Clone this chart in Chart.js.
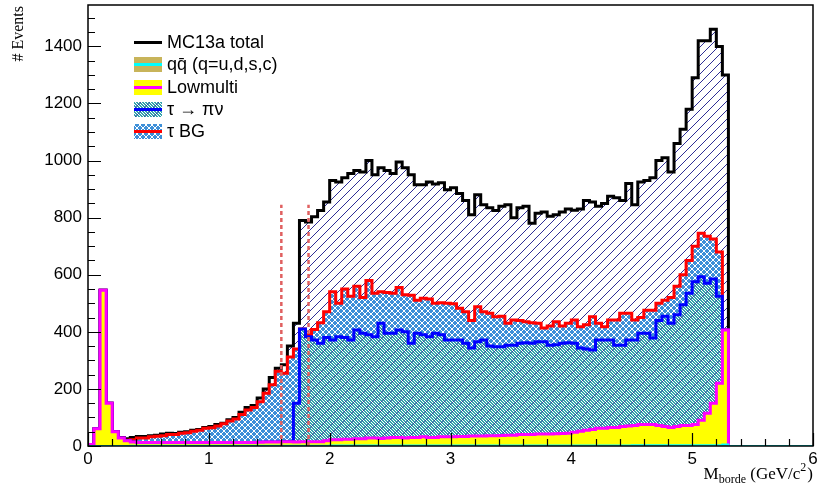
<!DOCTYPE html>
<html>
<head>
<meta charset="utf-8">
<script src="https://cdn.jsdelivr.net/npm/chart.js@4.4.1/dist/chart.umd.min.js"></script>
<style>
  html, body { margin: 0; padding: 0; background: #fff; }
  canvas { display: block; }
</style>
</head>
<body>
<canvas id="chart" width="817" height="491"></canvas>
<script>
// histogram bins: 0.05 GeV/c^2 wide, starting at 0
const binWidth = 0.05;
const xMax = 6;
const yMax = 1545;

// stacked components, events per bin
const qq = [
  0,0,0,0,0,0,0,1,1,1,
  1,1,1,1,1,1,1,1,1,1,
  1,1,1,1,1,1,1,1,1,1,
  1,1,1,1,1,1,1,1,1,1,
  2,2,2,2,2,2,2,2,2,2,
  2,2,2,2,2,2,2,2,2,2,
  2,2,2,2,2,2,2,2,2,2,
  2,2,2,2,2,2,2,2,2,2,
  2,2,2,2,2,2,2,2,2,2,
  3,3,3,3,3,3,3,3,3,3,
  3,3,3,3,3,5
];
const lowmulti = [
  5,60,546,150,50,28,18,13,11,11,
  11,11,11,11,11,11,11,11,11,11,
  11,11,11,11,11,11,11,11,12,13,
  13,13,14,14,13,14,14,14,14,17,
  20,20,22,22,23,23,26,26,24,26,
  28,28,26,28,28,30,28,28,30,30,
  30,31,31,33,33,33,34,34,35,36,
  36,38,38,38,40,40,40,41,42,43,
  46,50,53,56,60,60,63,63,66,68,
  69,72,72,72,69,65,62,65,69,69,
  72,87,112,147,217,401
];
const tauPiNu = [
  0,0,0,0,0,0,0,0,0,0,
  0,0,0,0,0,0,0,0,0,0,
  0,0,0,0,0,0,0,0,0,0,
  0,0,0,0,136,395,368,356,345,362,
  349,361,356,347,381,370,362,355,404,367,
  365,376,372,330,365,358,353,365,358,339,
  339,338,327,308,330,336,314,312,311,315,
  315,320,322,320,323,323,311,312,316,317,
  312,291,285,278,309,309,306,288,285,301,
  299,320,320,303,368,387,365,392,423,463,
  500,503,455,435,305,0
];
const tauBG = [
  0,0,0,0,0,0,2,8,16,16,
  20,22,24,28,28,33,34,40,43,50,
  52,58,66,76,83,98,114,123,142,171,
  201,248,240,297,190,0,7,37,72,90,
  169,117,170,154,154,125,190,152,110,143,
  140,149,130,168,116,128,132,105,112,129,
  127,112,110,97,123,99,115,105,107,77,
  88,80,73,72,65,48,67,80,60,68,
  81,75,85,117,59,47,70,88,112,94,
  70,55,81,98,60,56,90,100,105,115,
  125,152,165,140,155,0
];
// MC13a total
const total = [
  5,60,546,150,50,30,25,30,33,33,
  36,38,42,45,44,48,50,55,58,65,
  68,75,80,92,100,118,135,142,168,200,
  240,272,285,350,430,790,785,803,825,855,
  930,925,940,955,965,960,1000,950,975,965,
  955,995,975,950,915,915,925,918,922,898,
  905,885,860,810,880,845,835,825,840,845,
  800,835,840,780,815,820,805,810,820,830,
  826,830,860,855,840,850,875,870,860,920,
  845,925,930,940,1000,1010,960,1060,1110,1180,
  1290,1420,1420,1460,1400,1300
];

// selection cuts (dashed lines)
const cutPositions = [1.6, 1.825];
const cutTop = 845;

const nBins = total.length;
const edges = total.map((_, i) => +(i * binWidth).toFixed(2));

function histPoints(vals, toEnd) {
  const pts = vals.map((v, i) => ({ x: edges[i], y: v }));
  pts.push({ x: +(nBins * binWidth).toFixed(2), y: 0 });
  if (toEnd) pts.push({ x: xMax, y: 0 });
  return pts;
}

// part of the total above the listed components
const rest = total.map((t, i) => Math.max(0, t - qq[i] - lowmulti[i] - tauPiNu[i] - tauBG[i]));

// fill patterns
function makePattern(size, draw) {
  const c = document.createElement('canvas');
  c.width = size; c.height = size;
  const g = c.getContext('2d');
  draw(g, size);
  return g.createPattern(c, 'repeat');
}
const hatchPattern = makePattern(9, (g, s) => {
  g.strokeStyle = '#2e2e96';
  g.lineWidth = 1;
  for (const k of [0, s, 2 * s]) {
    g.beginPath();
    g.moveTo(k - s - 1, s + 1);
    g.lineTo(k + 1, -1);
    g.stroke();
  }
});
const tauBGPattern = makePattern(6, (g, s) => {
  g.fillStyle = '#3d8fd8';
  g.fillRect(0, 0, s, s);
  g.fillStyle = '#ffffff';
  for (let x = 0; x < s; x++) {
    for (let y = 0; y < s; y++) {
      if ((x + y) % 6 === 0 || (x - y + 6) % 6 === 3) g.fillRect(x, y, 1, 1);
    }
  }
});
const tauPiNuPattern = makePattern(9, (g, s) => {
  g.fillStyle = '#35a3ad';
  g.fillRect(0, 0, s, s);
  g.fillStyle = '#ffffff';
  for (let x = 0; x < s; x++) {
    for (let y = 0; y < s; y++) {
      if ((x + 2 * y) % 3 === 0) g.fillRect(x, y, 1, 1);
    }
  }
  g.fillStyle = 'rgba(46,46,150,0.7)';
  for (let x = 0; x < s; x++) g.fillRect(x, s - 1 - x, 1, 1);
});

const sansFont = '"Liberation Sans", Arial, Helvetica, sans-serif';
const serifFont = '"Liberation Serif", "Times New Roman", serif';

function histSet(label, vals, line, fill, width, fillMode, toEnd) {
  return {
    label: label,
    data: histPoints(vals, toEnd),
    stepped: true,
    borderColor: line,
    backgroundColor: fill,
    borderWidth: width,
    borderJoinStyle: 'miter',
    pointRadius: 0,
    fill: fillMode,
    yAxisID: 'y',
  };
}

const datasets = [
  histSet('qq\u0304 (q=u,d,s,c)', qq, '#00ffff', '#c8b45a', 2, 'origin', true),
  histSet('Lowmulti', lowmulti, '#ff00ff', '#ffff00', 3, '-1', false),
  histSet('\u03c4 \u2192 \u03c0\u03bd', tauPiNu, '#0000ff', tauPiNuPattern, 3, '-1', false),
  histSet('\u03c4 BG', tauBG, '#ff0000', tauBGPattern, 3, '-1', false),
  histSet('MC13a total', rest, '#000000', hatchPattern, 3, '-1', false),
];
cutPositions.forEach((c) => {
  datasets.push({
    label: 'cut',
    data: [{ x: c, y: 0 }, { x: c, y: cutTop }],
    borderColor: '#e06060',
    borderWidth: 2.5,
    borderDash: [4, 3],
    pointRadius: 0,
    fill: false,
    yAxisID: 'yCut',
    order: -1,
  });
});

// frame, inner ticks, axis titles and legend, ROOT style
const decorations = {
  id: 'decorations',
  afterDraw(chart) {
    const ctx = chart.ctx;
    const a = chart.chartArea;
    const xs = chart.scales.x;
    const ys = chart.scales.y;
    ctx.save();
    ctx.strokeStyle = '#000';
    ctx.lineWidth = 1.5;
    ctx.strokeRect(a.left, a.top, a.right - a.left, a.bottom - a.top);

    ctx.lineWidth = 1.2;
    ctx.beginPath();
    for (let k = 0; k <= 30; k++) {
      const v = k * 0.2;
      const px = Math.round(xs.getPixelForValue(v)) + 0.5;
      const len = k % 5 === 0 ? 13 : 7;
      ctx.moveTo(px, a.bottom);
      ctx.lineTo(px, a.bottom - len);
    }
    for (let v = 0; v <= 1500; v += 50) {
      const py = Math.round(ys.getPixelForValue(v)) + 0.5;
      const len = v % 200 === 0 ? 13 : 7;
      ctx.moveTo(a.left, py);
      ctx.lineTo(a.left + len, py);
    }
    ctx.stroke();

    // y title
    ctx.fillStyle = '#000';
    ctx.save();
    ctx.translate(23, 6);
    ctx.rotate(-Math.PI / 2);
    ctx.font = '16px ' + serifFont;
    ctx.textAlign = 'right';
    ctx.textBaseline = 'alphabetic';
    ctx.fillText('# Events', 0, 0);
    ctx.restore();

    // x title: M_borde (GeV/c^2)
    const parts = [
      { t: 'M', size: 17, dy: 0 },
      { t: 'borde', size: 12, dy: 4 },
      { t: ' (GeV/c', size: 17, dy: 0 },
      { t: '2', size: 12, dy: -8 },
      { t: ')', size: 17, dy: 0 },
    ];
    let w = 0;
    parts.forEach((p) => { ctx.font = p.size + 'px ' + serifFont; p.w = ctx.measureText(p.t).width; w += p.w; });
    let tx = 812 - w;
    ctx.textAlign = 'left';
    ctx.textBaseline = 'alphabetic';
    parts.forEach((p) => {
      ctx.font = p.size + 'px ' + serifFont;
      ctx.fillText(p.t, tx, 479 + p.dy);
      tx += p.w + (p.t === '2' ? 1 : 0);
    });

    // legend
    const legendOrder = [4, 0, 1, 2, 3];
    legendOrder.forEach((di, row) => {
      const ds = chart.data.datasets[di];
      const cy = Math.round(42 + row * 22.3);
      if (di !== 4) {
        ctx.fillStyle = ds.backgroundColor;
        ctx.fillRect(134, cy - 7, 28, 15);
      }
      ctx.strokeStyle = ds.borderColor;
      ctx.lineWidth = 3;
      ctx.beginPath();
      ctx.moveTo(134, cy + 0.5);
      ctx.lineTo(162, cy + 0.5);
      ctx.stroke();
      ctx.fillStyle = '#000';
      ctx.font = '18px ' + sansFont;
      ctx.textBaseline = 'middle';
      ctx.fillText(ds.label, 167, cy + 1);
    });
    ctx.restore();
  },
};

new Chart(document.getElementById('chart'), {
  type: 'line',
  data: { datasets: datasets },
  options: {
    responsive: false,
    animation: false,
    devicePixelRatio: 1,
    layout: { padding: { top: 5, right: 4, left: 0, bottom: 0 } },
    plugins: {
      legend: { display: false },
      tooltip: { enabled: false },
    },
    scales: {
      x: {
        type: 'linear',
        min: 0,
        max: xMax,
        grid: { display: false, drawTicks: false },
        border: { display: false },
        ticks: {
          stepSize: 1,
          color: '#000',
          padding: 3,
          maxRotation: 0,
          font: { family: sansFont, size: 17 },
          callback: (v) => String(v),
        },
        afterFit: (s) => { s.height = 45; s.paddingLeft = 0; s.paddingRight = 0; },
      },
      y: {
        type: 'linear',
        stacked: true,
        min: 0,
        max: yMax,
        grid: { display: false, drawTicks: false },
        border: { display: false },
        ticks: {
          stepSize: 200,
          includeBounds: false,
          color: '#000',
          padding: 6,
          font: { family: sansFont, size: 17 },
          callback: (v) => String(v),
        },
        afterFit: (s) => { s.width = 88; s.paddingTop = 0; s.paddingBottom = 0; },
      },
      yCut: {
        type: 'linear',
        display: false,
        stacked: false,
        min: 0,
        max: yMax,
      },
    },
  },
  plugins: [decorations],
});
</script>
</body>
</html>
